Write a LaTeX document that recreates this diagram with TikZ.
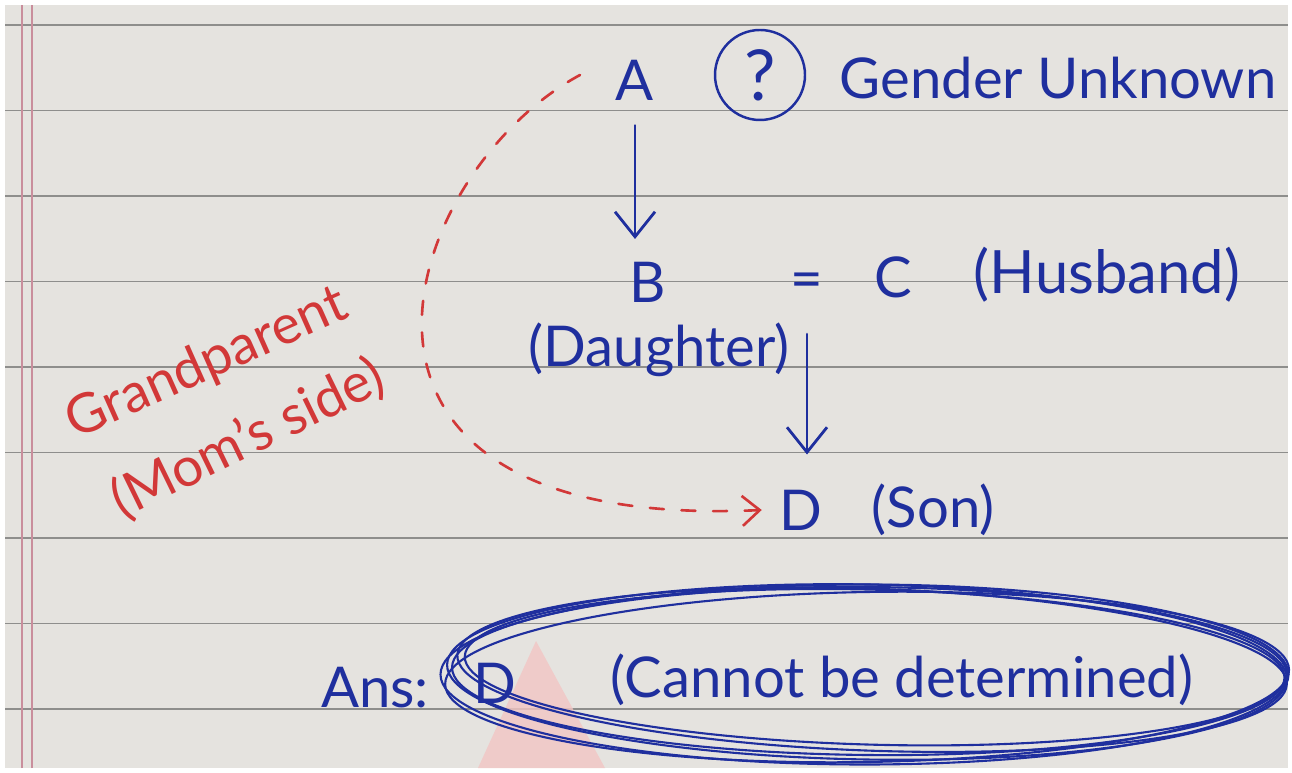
\documentclass[tikz,border=0pt]{standalone}
\usepackage{fontspec}
\setmainfont{Lato}
\usetikzlibrary{arrows.meta}

\definecolor{paper}{HTML}{E5E3DF}
\definecolor{rulegray}{HTML}{8E8E8C}
\definecolor{marginred}{HTML}{C98E9C}
\definecolor{inkblue}{HTML}{1F2F9E}
\definecolor{inkred}{HTML}{D23838}
\definecolor{watermark}{HTML}{F2C6C4}

\tikzset{
  ink/.style={text=inkblue, font=\fontsize{32}{38}\selectfont, inner sep=0pt},
  redink/.style={text=inkred, font=\fontsize{31}{36}\selectfont, inner sep=0pt},
  pen/.style={draw=inkblue, line width=1.6pt, line cap=round},
  redpen/.style={draw=inkred, line width=1.5pt, line cap=round, dash pattern=on 8pt off 10pt},
  ruling/.style={draw=rulegray, line width=0.8pt},
}

\begin{document}
\begin{tikzpicture}

  % Page size (photo frame)
  \useasboundingbox[fill=white] (0,0) rectangle (25.84,15.44);
  \fill[paper] (0.1,0.08) rectangle (25.76,15.34);

  % Ruled lines and margin
  \foreach \k in {0,...,8}
    \draw[ruling] (0.1,14.94-1.71*\k) -- (25.76,14.94-1.71*\k);
  \draw[marginred, line width=0.7pt] (0.44,0.08) -- (0.44,15.34);
  \draw[marginred, line width=0.7pt] (0.64,0.08) -- (0.64,15.34);

  % Faint watermark
  \fill[watermark, opacity=0.8] (9.56,0.08) -- (10.72,2.62) -- (12.1,0.08) -- cycle;

  % Top row
  \node[ink] (nA) at (12.70,13.84) {A};
  \node[ink, draw=inkblue, line width=1.4pt, circle, minimum size=1.8cm,
        font=\fontsize{40}{44}\selectfont] (nQ) at (15.20,13.94) {?};
  \node[ink] (nGender) at (21.16,13.88) {Gender Unknown};

  % Middle row
  \node[ink] (nB) at (12.96,9.80) {B};
  \node[ink] (nDau) at (13.18,8.44) {(Daughter)};
  \node[ink] (nEq) at (16.14,9.72) {=};
  \node[ink] (nC) at (17.86,9.90) {C};
  \node[ink, font=\fontsize{34}{40}\selectfont] (nHus) at (22.14,9.94) {(Husband)};

  % Bottom row
  \node[ink] (nD) at (16.02,5.24) {D};
  \node[ink] (nSon) at (18.66,5.24) {(Son)};

  % Red note, slanted
  \node[redink, rotate=24] (nGrand) at (4.14,8.16) {Grandparent};
  \node[redink, rotate=26] (nSide) at (4.96,6.66) {(Mom's side)};

  % Answer
  \node[ink] (nAns) at (7.50,1.68) {Ans:};
  \node[ink] (nAnsD) at (9.90,1.78) {D};
  \node[ink] (nAnsText) at (18.04,1.84) {(Cannot be determined)};
  \coordinate (ans) at (17.34,2.00);

  % Arrows
  \draw[pen, -{Straight Barb[length=5mm, width=8mm]}, shorten <=0.5cm, shorten >=0.45cm] (nA) -- (nA |- nB.north);
  \draw[pen, -{Straight Barb[length=5mm, width=8mm]}] ([yshift=-0.7cm]nEq.south) -- ([yshift=0.7cm]nEq.south |- nD.north);
  \draw[redpen, -{Straight Barb[length=3.5mm, width=6mm]}]
    (11.6,13.94) .. controls (8.0,12.0) and (5.6,4.8) .. ([xshift=-0.35cm]nD.west);

  % Scribbled rings round the answer
  \foreach \rx/\ry/\rot/\dx/\dy in {8.40/1.75/-1/0/0, 8.30/1.62/-2/0.10/0.05, 8.48/1.80/0/-0.05/-0.05, 8.20/1.55/-1.5/0.15/0.10, 8.44/1.70/1/0/-0.10, 8.35/1.68/-0.5/0.05/0.02}
    \draw[pen, line width=1.2pt, shift={(ans)}, rotate=\rot] (\dx,\dy) ellipse ({\rx} and {\ry});

\end{tikzpicture}
\end{document}
